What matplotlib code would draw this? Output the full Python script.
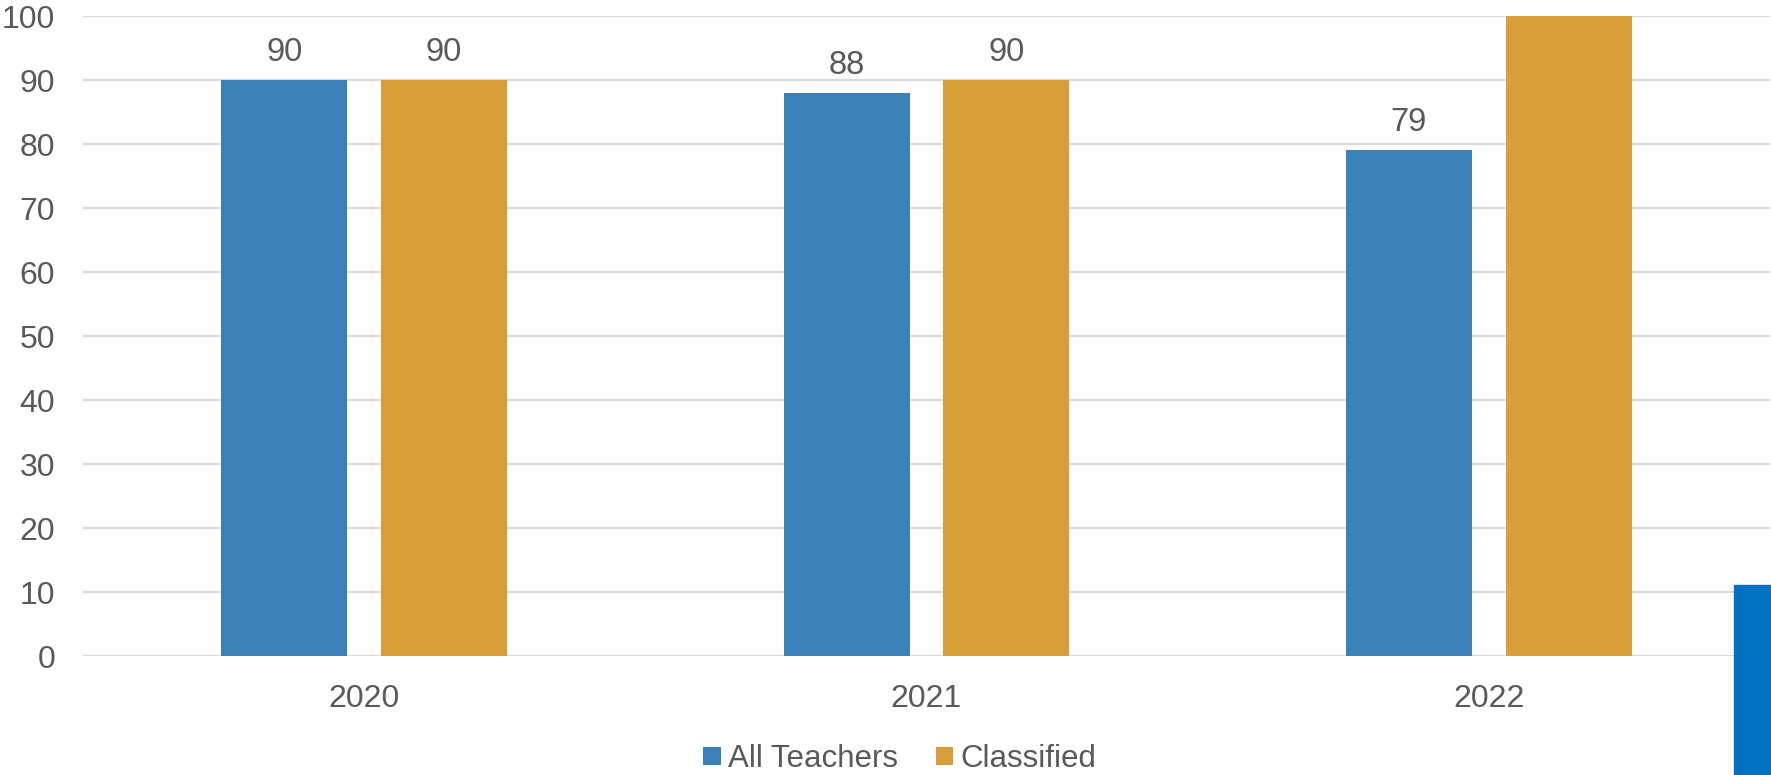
import matplotlib
matplotlib.use("Agg")
import matplotlib.pyplot as plt
import numpy as np
from matplotlib.patches import Rectangle

# data
years = ["2020", "2021", "2022"]
all_teachers = [90, 88, 79]
classified = [90, 90, 100]
series_names = ["All Teachers", "Classified"]
yticks = list(range(0, 101, 10))

BLUE = "#3A80B9"
GOLD = "#D89F38"
GREY = "#595959"
GRID = "#D9D9D9"

plt.rcParams["font.family"] = ["Liberation Sans", "DejaVu Sans"]

fig = plt.figure(figsize=(17.71, 7.75), dpi=100)
ax = fig.add_axes([83 / 1771, 119 / 775, 1687 / 1771, 640 / 775])

x = np.arange(len(years))
w = 0.224
off = 0.142
b1 = ax.bar(x - off, all_teachers, w, color=BLUE, label=series_names[0], zorder=3)
b2 = ax.bar(x + off, classified, w, color=GOLD, label=series_names[1], zorder=3)

ymax = yticks[-1]
for bars in (b1, b2):
    for r in bars:
        v = r.get_height()
        if v >= ymax:
            continue  # label sits above the visible area in the reference
        ax.annotate(f"{v:g}", (r.get_x() + r.get_width() / 2, v),
                    xytext=(0, 20), textcoords="offset points",
                    ha="center", va="center", fontsize=23.5, color=GREY)

ax.set_xlim(-0.5, len(years) - 0.5)
ax.set_ylim(0, ymax)
ax.set_yticks(yticks)
ax.set_xticks(x)
ax.set_xticklabels(years)
ax.grid(axis="y", color=GRID, linewidth=1.6, zorder=0)
for s in ax.spines.values():
    s.set_visible(False)
ax.tick_params(axis="both", length=0, labelsize=23, colors=GREY)
ax.tick_params(axis="y", pad=20)
ax.tick_params(axis="x", pad=20)

fig.legend(handles=[b1, b2], loc="center", bbox_to_anchor=(900 / 1771, 16 / 775),
           ncol=2, frameon=False, fontsize=22.5, labelcolor=GREY,
           handlelength=0.55, handleheight=0.55, handletextpad=0.25, columnspacing=1.2)

# logo fragment at the bottom right edge
fig.patches.append(Rectangle((1734 / 1771, 0), 37 / 1771, 190 / 775,
                             transform=fig.transFigure, color="#0070C0", zorder=5))

fig.savefig("out.png", dpi=100)
